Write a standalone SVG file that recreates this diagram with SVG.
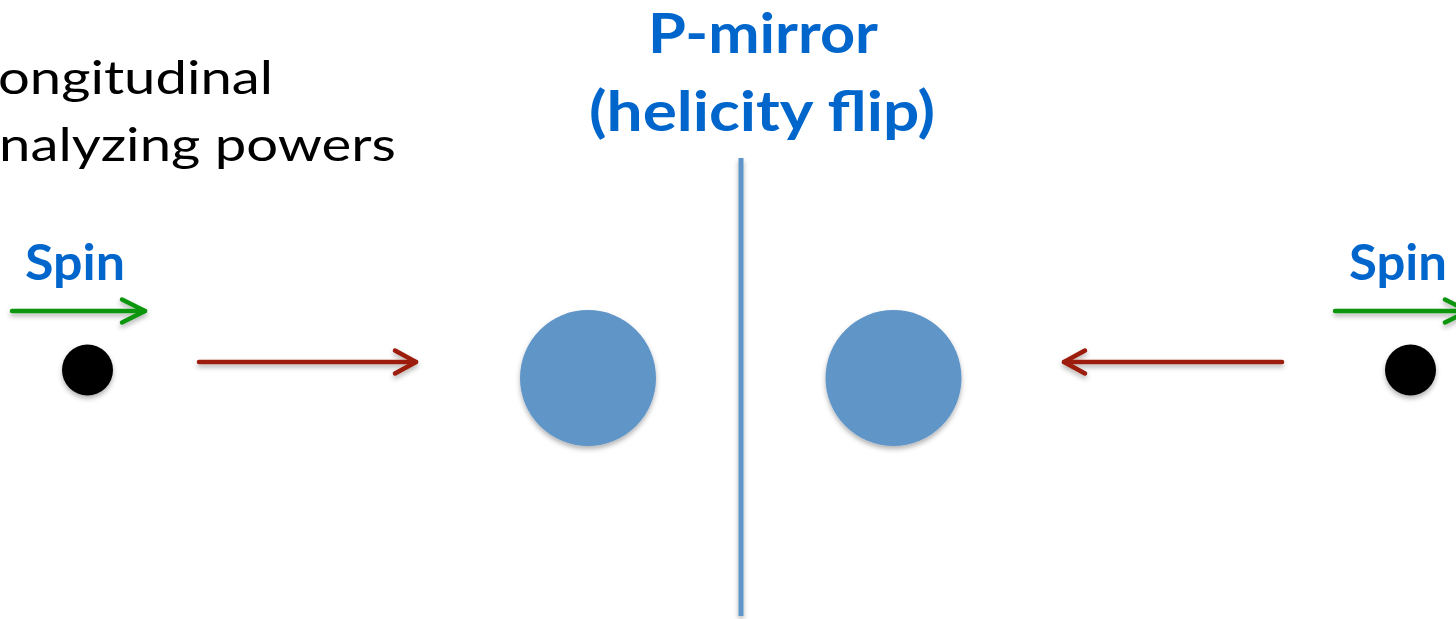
<svg xmlns="http://www.w3.org/2000/svg" width="1456" height="619" viewBox="0 0 1456 619">
  <style>
    .title { font-family: Lato, "Open Sans", sans-serif; font-weight: bold; fill: #0066CC; }
    .body { font-family: Lato, "Open Sans", sans-serif; fill: #000000; font-size: 47px; }
    .spin { font-family: Lato, "Open Sans", sans-serif; font-weight: bold; fill: #0066CC; font-size: 49px; }
    .green { stroke: #0E960E; stroke-width: 4.5; fill: none; stroke-linecap: round; }
    .red { stroke: #9C1C08; stroke-width: 4.5; fill: none; stroke-linecap: round; }
    .target { fill: #6195C8; }
    .beam { fill: #000000; }
  </style>
  <defs>
    <filter id="sh" filterUnits="userSpaceOnUse" x="0" y="0" width="1500" height="640">
      <feDropShadow dx="0" dy="3" stdDeviation="2.5" flood-color="#000" flood-opacity="0.3"/>
    </filter>
    <marker id="gHead" markerUnits="userSpaceOnUse" markerWidth="40" markerHeight="40" viewBox="-30 -20 40 40" refX="0" refY="0" orient="auto" overflow="visible">
      <path d="M-23,-11.5 L0,0 L-23,11.5" fill="none" stroke="#0E960E" stroke-width="4.5" stroke-linecap="round" stroke-linejoin="round"/>
    </marker>
    <marker id="rHead" markerUnits="userSpaceOnUse" markerWidth="40" markerHeight="40" viewBox="-30 -20 40 40" refX="0" refY="0" orient="auto" overflow="visible">
      <path d="M-21,-11.5 L0,0 L-21,11.5" fill="none" stroke="#9C1C08" stroke-width="4.5" stroke-linecap="round" stroke-linejoin="round"/>
    </marker>
  </defs>
  <rect width="1456" height="619" fill="#ffffff"/>

  <g id="heading">
    <text class="body" x="-2" y="94" textLength="275" lengthAdjust="spacingAndGlyphs">ongitudinal</text>
    <text class="body" x="-1" y="161" textLength="397" lengthAdjust="spacingAndGlyphs">nalyzing powers</text>
  </g>

  <g id="mirror-label">
    <text class="title" x="763" y="53" font-size="56" text-anchor="middle" textLength="230" lengthAdjust="spacingAndGlyphs">P-mirror</text>
    <text class="title" x="762" y="131" font-size="56" text-anchor="middle" textLength="346" lengthAdjust="spacingAndGlyphs">(helicity flip)</text>
  </g>

  <g id="mirror">
    <rect x="738.5" y="158" width="5" height="458" fill="#6195C8" filter="url(#sh)"/>
  </g>

  <g id="target-left">
    <circle class="target" cx="588" cy="378" r="68" filter="url(#sh)"/>
  </g>
  <g id="target-right">
    <circle class="target" cx="893.5" cy="378" r="68" filter="url(#sh)"/>
  </g>

  <g id="beam-left">
    <circle class="beam" cx="87.5" cy="370" r="25.5" filter="url(#sh)"/>
    <text class="spin" x="25" y="280" textLength="100" lengthAdjust="spacingAndGlyphs">Spin</text>
  </g>
  <g id="beam-right">
    <circle class="beam" cx="1410.5" cy="370" r="25.5" filter="url(#sh)"/>
    <text class="spin" x="1349" y="280" textLength="98" lengthAdjust="spacingAndGlyphs">Spin</text>
  </g>

  <g id="connectors" filter="url(#sh)">
    <line class="green" x1="12" y1="311" x2="145" y2="311" marker-end="url(#gHead)"/>
    <line class="red" x1="199" y1="362" x2="416" y2="362" marker-end="url(#rHead)"/>
    <line class="red" x1="1282" y1="362" x2="1064" y2="362" marker-end="url(#rHead)"/>
    <line class="green" x1="1335" y1="311" x2="1468" y2="311" marker-end="url(#gHead)"/>
  </g>
</svg>
